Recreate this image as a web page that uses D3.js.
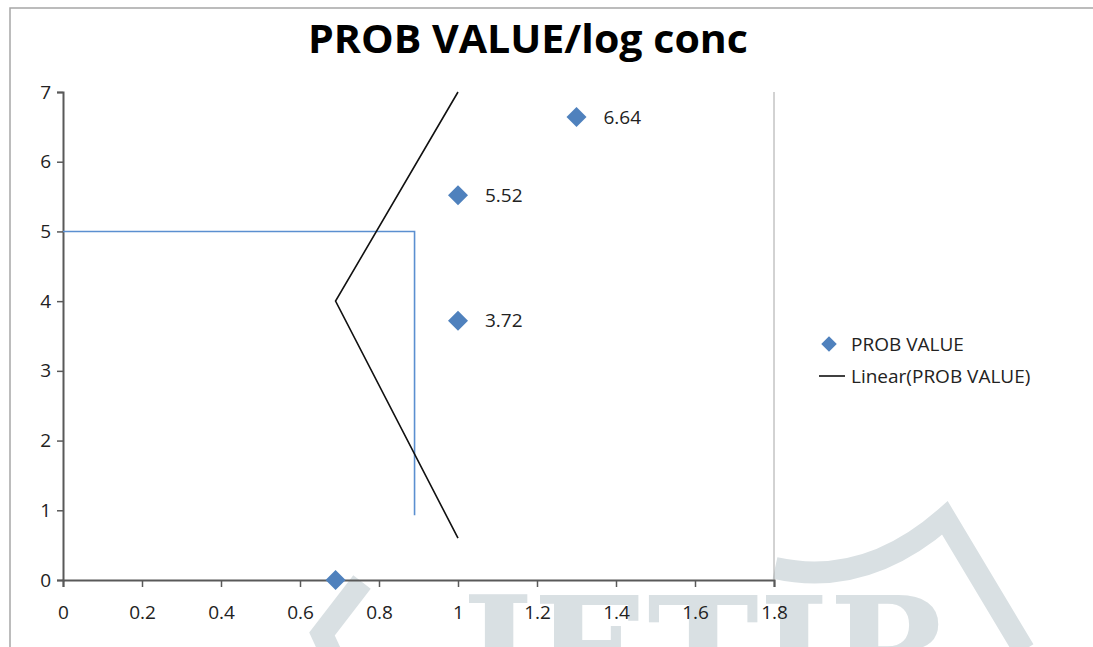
<!DOCTYPE html>
<meta charset="utf-8">
<style>
  body { margin: 0; background: #fff; }
  text { font-family: "Open Sans", "DejaVu Sans", sans-serif; fill: #222; }
</style>
<svg width="1093" height="647"></svg>
<script src="https://d3js.org/d3.v7.min.js"></script>
<script>
// data points (log conc vs prob value)
var logConc = [0.69, 1, 1, 1.3]
var probValue = [0, 3.72, 5.52, 6.64]
var pointLabels = ["", "3.72", "5.52", "6.64"]

// the drawn "Linear" line, as it appears in the chart
var trendX = [1, 0.69, 1]
var trendY = [0.6, 4, 7]

// blue read-off line
var readX = [0, 0.89, 0.89]
var readY = [5, 5, 0.93]

var xTicks = [0, 0.2, 0.4, 0.6, 0.8, 1, 1.2, 1.4, 1.6, 1.8]
var yTicks = [0, 1, 2, 3, 4, 5, 6, 7]

var svg = d3.select("svg")
var blue = "#4f81bd"
var wm = "#d9e0e3"

// watermark behind everything
svg.append("text")
  .attr("x", 462).attr("y", 704)
  .style("font-family", "'DejaVu Serif', serif")
  .style("font-weight", "bold")
  .style("font-size", "150px")
  .style("fill", wm)
  .text("JETIR")
svg.append("path")
  .attr("d", "M362,582 L322,634 L334,660")
  .attr("fill", "none").attr("stroke", wm).attr("stroke-width", 22)
svg.append("path")
  .attr("d", "M775,568 Q865,588 945,518 L1024,650")
  .attr("fill", "none").attr("stroke", wm).attr("stroke-width", 22)

// outer frame
svg.append("path")
  .attr("d", "M10,647 L10,8 L1093,8")
  .attr("fill", "none").attr("stroke", "#a6a6a6").attr("stroke-width", 1.5)

var x = d3.scaleLinear().domain([0, 1.8]).range([63, 774])
var y = d3.scaleLinear().domain([0, 7]).range([580, 92])

// right border of plot area
svg.append("line")
  .attr("x1", x(1.8)).attr("x2", x(1.8))
  .attr("y1", y(7)).attr("y2", y(0))
  .attr("stroke", "#a6a6a6").attr("stroke-width", 1)

svg.append("text")
  .attr("x", 528).attr("y", 53)
  .attr("text-anchor", "middle")
  .attr("textLength", 440).attr("lengthAdjust", "spacingAndGlyphs")
  .style("font-weight", "bold").style("font-size", "40px").style("fill", "#000")
  .text("PROB VALUE/log conc")

var fmt = d3.format("~g")
var xAxis = svg.append("g")
  .attr("transform", "translate(0," + y(0) + ")")
  .call(d3.axisBottom(x).tickValues(xTicks).tickSize(7).tickPadding(19).tickFormat(fmt))
var yAxis = svg.append("g")
  .attr("transform", "translate(" + x(0) + ",0)")
  .call(d3.axisLeft(y).tickValues(yTicks).tickSize(6).tickPadding(6).tickFormat(fmt))

;[xAxis, yAxis].forEach(function (a) {
  a.select(".domain").attr("stroke", "#595959").attr("stroke-width", 2)
  a.selectAll(".tick line").attr("stroke", "#595959").attr("stroke-width", 1.5)
  a.selectAll(".tick text")
    .style("font-size", "19px").style("font-family", "'Open Sans', sans-serif").attr("fill", "#222")
})

var line = d3.line()
  .x(function (d) { return x(d[0]) })
  .y(function (d) { return y(d[1]) })

svg.append("path")
  .datum(readX.map(function (v, i) { return [v, readY[i]] }))
  .attr("d", line)
  .attr("fill", "none").attr("stroke", "#5b8fd0").attr("stroke-width", 1.6)

svg.append("path")
  .datum(trendX.map(function (v, i) { return [v, trendY[i]] }))
  .attr("d", line)
  .attr("fill", "none").attr("stroke", "#111").attr("stroke-width", 1.6)

var diamond = d3.symbol().type(d3.symbolSquare).size(200)

var pts = svg.append("g").selectAll("g")
  .data(logConc.map(function (v, i) { return { x: v, y: probValue[i], label: pointLabels[i] } }))
  .join("g")
  .attr("transform", function (d) { return "translate(" + x(d.x) + "," + y(d.y) + ")" })

pts.append("path")
  .attr("d", diamond)
  .attr("transform", "rotate(45)")
  .attr("fill", blue)

pts.append("text")
  .attr("x", 27).attr("dy", "0.35em")
  .style("font-size", "19px")
  .text(function (d) { return d.label })

// legend
var legend = svg.append("g").attr("transform", "translate(829,344)")
legend.append("path")
  .attr("d", d3.symbol().type(d3.symbolSquare).size(120))
  .attr("transform", "rotate(45)")
  .attr("fill", blue)
legend.append("text")
  .attr("x", 22).attr("dy", "0.35em")
  .style("font-size", "19px")
  .text("PROB VALUE")
legend.append("line")
  .attr("x1", -10).attr("x2", 16).attr("y1", 32).attr("y2", 32)
  .attr("stroke", "#111").attr("stroke-width", 1.6)
legend.append("text")
  .attr("x", 22).attr("y", 32).attr("dy", "0.35em")
  .style("font-size", "19px")
  .text("Linear(PROB VALUE)")
</script>
